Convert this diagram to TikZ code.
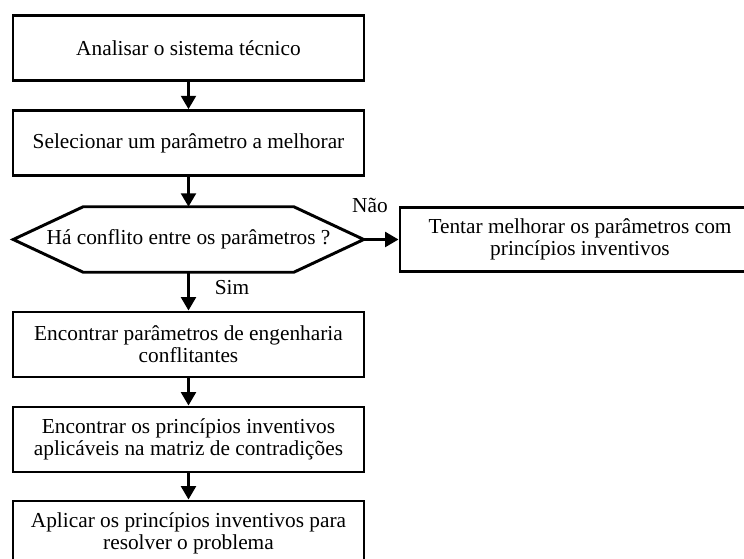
\documentclass[tikz,border=0pt]{standalone}
\usepackage{fontspec}
\setmainfont{Liberation Serif}
\usetikzlibrary{arrows.meta,calc}
\begin{document}
\begin{tikzpicture}[x=0.75pt,y=-0.75pt,
  every node/.style={font=\fontsize{16}{16.5}\selectfont},
  box/.style={draw,line width=2.2pt,minimum width=263.25pt,minimum height=48.5pt,align=center,inner sep=0pt},
  conn/.style={line width=2.2pt,-{Triangle[length=10pt,width=11pt]}},
  lbl/.style={inner sep=0pt}]
\useasboundingbox (0,0) rectangle (744,559);
\fill[white] (0,0) rectangle (744,559);
\node[box] (b1) at (188.5,48) {Analisar o sistema técnico};
\node[box] (b2) at (188.5,143) {Selecionar um parâmetro a melhorar};
\node[minimum width=262.5pt,minimum height=48.75pt,inner sep=0pt] (hex) at (188.5,239.5) {Há conflito entre os parâmetros ?};
\draw[line width=2.2pt,line join=miter] (hex.west) -- ($(hex.north west)+(70,0)$) -- ($(hex.north east)+(-70,0)$) -- (hex.east) -- ($(hex.south east)+(-70,0)$) -- ($(hex.south west)+(70,0)$) -- cycle;
\node[box,minimum width=270pt] (r) at (580,239.5) {Tentar melhorar os parâmetros com\\princípios inventivos};
\node[box,minimum height=48.75pt] (b4) at (188.5,344.5) {Encontrar parâmetros de engenharia\\conflitantes};
\node[box,minimum height=48.75pt] (b5) at (188.5,439.5) {Encontrar os princípios inventivos\\aplicáveis na matriz de contradições};
\node[box,minimum height=48.75pt] (b6) at (188.5,533.5) {Aplicar os princípios inventivos para\\resolver o problema};
\draw[conn] (b1.south) -- (b2.north);
\draw[conn] (b2.south) -- (hex.north);
\draw[conn] (hex.east) -- (r.west);
\draw[conn] (hex.south) -- (b4.north);
\draw[conn] (b4.south) -- (b5.north);
\draw[conn] (b5.south) -- (b6.north);
\node[lbl] (nao) at (370,205) {Não};
\node[lbl] (sim) at (232,288) {Sim};
\end{tikzpicture}
\end{document}
